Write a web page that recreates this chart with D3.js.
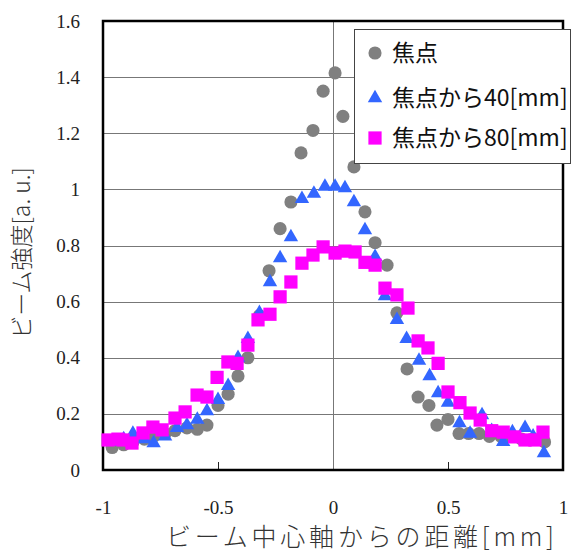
<!DOCTYPE html>
<html>
<head>
<meta charset="utf-8">
<script src="https://cdn.jsdelivr.net/npm/d3@7"></script>
<style>
  body { margin: 0; background: #fff; }
</style>
</head>
<body>
<div id="chart"></div>
<script>
// 焦点 (grey circles)
var focusX = [-0.96, -0.91, -0.87, -0.82, -0.78, -0.73, -0.687, -0.635, -0.59, -0.548, -0.5, -0.456, -0.413, -0.37, -0.32, -0.278, -0.23, -0.183, -0.139, -0.087, -0.043, 0.009, 0.043, 0.091, 0.139, 0.183, 0.235, 0.278, 0.322, 0.37, 0.417, 0.452, 0.5, 0.548, 0.59, 0.635, 0.68, 0.73, 0.77, 0.82, 0.87, 0.92];
var focusY = [0.08, 0.09, 0.10, 0.11, 0.12, 0.13, 0.14, 0.15, 0.145, 0.16, 0.23, 0.27, 0.335, 0.40, 0.55, 0.71, 0.86, 0.955, 1.13, 1.21, 1.35, 1.415, 1.26, 1.08, 0.92, 0.81, 0.73, 0.56, 0.36, 0.26, 0.23, 0.16, 0.18, 0.13, 0.13, 0.13, 0.12, 0.12, 0.12, 0.11, 0.11, 0.10];

// 焦点から40[mm] (blue triangles)
var d40X = [-0.96, -0.91, -0.87, -0.82, -0.78, -0.73, -0.678, -0.635, -0.59, -0.548, -0.5, -0.456, -0.413, -0.37, -0.32, -0.274, -0.23, -0.183, -0.135, -0.083, -0.035, 0.009, 0.052, 0.091, 0.139, 0.183, 0.226, 0.278, 0.32, 0.374, 0.42, 0.457, 0.5, 0.55, 0.596, 0.648, 0.69, 0.74, 0.78, 0.835, 0.87, 0.917];
var d40Y = [0.10, 0.11, 0.13, 0.11, 0.096, 0.12, 0.15, 0.16, 0.18, 0.21, 0.25, 0.30, 0.40, 0.467, 0.56, 0.67, 0.755, 0.83, 0.966, 0.985, 1.01, 1.01, 1.005, 0.955, 0.855, 0.76, 0.62, 0.535, 0.467, 0.39, 0.335, 0.274, 0.24, 0.167, 0.13, 0.196, 0.14, 0.10, 0.135, 0.15, 0.12, 0.06];

// 焦点から80[mm] (magenta squares)
var d80X = [-0.978, -0.935, -0.913, -0.874, -0.826, -0.783, -0.743, -0.687, -0.643, -0.591, -0.548, -0.504, -0.457, -0.417, -0.37, -0.326, -0.274, -0.23, -0.183, -0.135, -0.087, -0.043, 0.009, 0.052, 0.096, 0.139, 0.183, 0.226, 0.278, 0.326, 0.37, 0.413, 0.457, 0.5, 0.552, 0.596, 0.64, 0.69, 0.74, 0.79, 0.835, 0.878, 0.913];
var d80Y = [0.107, 0.11, 0.107, 0.096, 0.132, 0.153, 0.143, 0.185, 0.207, 0.267, 0.26, 0.33, 0.385, 0.38, 0.445, 0.535, 0.555, 0.617, 0.67, 0.737, 0.766, 0.795, 0.773, 0.78, 0.777, 0.74, 0.73, 0.648, 0.624, 0.577, 0.46, 0.435, 0.38, 0.278, 0.24, 0.203, 0.178, 0.14, 0.135, 0.118, 0.107, 0.107, 0.135];

var seriesNames = ["焦点", "焦点から40[mm]", "焦点から80[mm]"];
var xTicks = [-1, -0.5, 0, 0.5, 1];
var yTicks = [0, 0.2, 0.4, 0.6, 0.8, 1, 1.2, 1.4, 1.6];

var W = 573, H = 556;
var margin = {top: 21, right: 10, bottom: 86, left: 103};
var width = W - margin.left - margin.right,
    height = H - margin.top - margin.bottom;

var svg = d3.select("#chart").append("svg")
    .attr("width", W)
    .attr("height", H);

var g = svg.append("g")
    .attr("transform", "translate(" + margin.left + "," + margin.top + ")");

var x = d3.scaleLinear().domain([-1, 1]).range([0, width]);
var y = d3.scaleLinear().domain([0, 1.6]).range([height, 0]);

var numFont = "'Liberation Serif', 'DejaVu Serif', serif";
var jpFont = "'Noto Sans CJK JP', sans-serif";
var fmt = function(d){ return String(d); };   // plain hyphen for minus

// horizontal grid
g.append("g")
    .selectAll("line")
    .data(yTicks.slice(1, -1))
    .enter().append("line")
    .attr("x1", 0).attr("x2", width)
    .attr("y1", function(d){ return Math.round(y(d)) + 0.5; })
    .attr("y2", function(d){ return Math.round(y(d)) + 0.5; })
    .attr("stroke", "#777")
    .attr("stroke-width", 1);

// vertical line at x=0
g.append("line")
    .attr("x1", Math.round(x(0)) + 0.5).attr("x2", Math.round(x(0)) + 0.5)
    .attr("y1", 0).attr("y2", height)
    .attr("stroke", "#777");

// x axis (inward ticks)
var xAxis = g.append("g")
    .attr("transform", "translate(0," + height + ")")
    .call(d3.axisBottom(x).tickValues(xTicks).tickSize(-8).tickPadding(31).tickFormat(fmt));
xAxis.select(".domain").remove();
xAxis.selectAll(".tick line").attr("stroke", "#222")
    .style("display", function(d){ return (d === -1 || d === 1 || d === 0) ? "none" : null; });
xAxis.selectAll("text")
    .style("font-family", numFont).style("font-size", "19px").attr("fill", "#222");

// y axis labels
var yAxis = g.append("g")
    .call(d3.axisLeft(y).tickValues(yTicks).tickSize(0).tickPadding(23).tickFormat(fmt));
yAxis.select(".domain").remove();
yAxis.selectAll("text")
    .style("font-family", numFont).style("font-size", "19px").attr("fill", "#222");

// plot frame
g.append("rect")
    .attr("x", 0).attr("y", 0)
    .attr("width", width).attr("height", height)
    .attr("fill", "none")
    .attr("stroke", "#000")
    .attr("stroke-width", 2.5);

// markers
var circle = d3.symbol().type(d3.symbolCircle).size(135);
var tri = d3.symbol().type(d3.symbolTriangle).size(90);
var square = d3.symbol().type(d3.symbolSquare).size(175);

g.append("g").selectAll("path")
    .data(d3.zip(focusX, focusY))
    .enter().append("path")
    .attr("d", circle)
    .attr("transform", function(d){ return "translate(" + x(d[0]) + "," + y(d[1]) + ")"; })
    .attr("fill", "#808080");

g.append("g").selectAll("path")
    .data(d3.zip(d40X, d40Y))
    .enter().append("path")
    .attr("d", tri)
    .attr("transform", function(d){ return "translate(" + x(d[0]) + "," + y(d[1]) + ")"; })
    .attr("fill", "#3366ff");

g.append("g").selectAll("path")
    .data(d3.zip(d80X, d80Y))
    .enter().append("path")
    .attr("d", square)
    .attr("transform", function(d){ return "translate(" + x(d[0]) + "," + y(d[1]) + ")"; })
    .attr("fill", "#ff00ff");

// axis titles
svg.append("text")
    .attr("x", 360).attr("y", 546)
    .attr("text-anchor", "middle")
    .attr("textLength", 388).attr("lengthAdjust", "spacing")
    .style("font-family", jpFont).style("font-size", "25px").style("font-weight", 300)
    .attr("fill", "#333")
    .text("ビーム中心軸からの距離[mm]");

svg.append("text")
    .attr("transform", "translate(30,253) rotate(-90)")
    .attr("text-anchor", "middle")
    .style("font-family", jpFont).style("font-size", "23px").style("font-weight", 300)
    .attr("fill", "#333")
    .text("ビーム強度[a. u.]");

// legend
var legend = svg.append("g").attr("transform", "translate(354,29)");
legend.append("rect")
    .attr("x", 0.5).attr("y", 0.5)
    .attr("width", 216).attr("height", 134)
    .attr("fill", "#fff")
    .attr("stroke", "#444");

var legendMarks = [circle, tri, square];
var legendColors = ["#808080", "#3366ff", "#ff00ff"];
var rowY = [24, 69, 109];

seriesNames.forEach(function(name, i){
    legend.append("path")
        .attr("d", legendMarks[i])
        .attr("transform", "translate(21," + rowY[i] + ")")
        .attr("fill", legendColors[i]);
    legend.append("text")
        .attr("x", 38).attr("y", rowY[i])
        .attr("dy", "0.36em")
        .style("font-family", jpFont).style("font-size", "23px")
        .attr("fill", "#111")
        .text(name);
});
</script>
</body>
</html>
